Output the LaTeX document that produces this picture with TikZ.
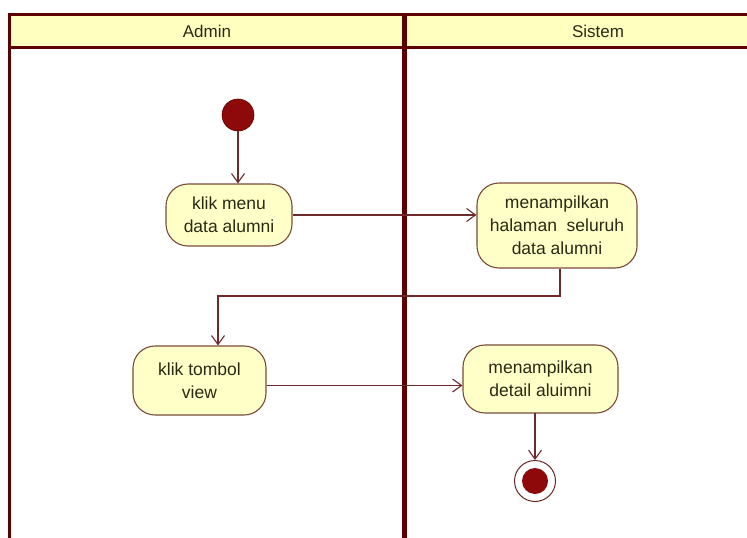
\documentclass[tikz,border=0pt]{standalone}
\usepackage{fontspec}
\setmainfont{Liberation Sans}
\usetikzlibrary{arrows.meta}
\definecolor{frame}{HTML}{5E0000}
\definecolor{headfill}{HTML}{FFFFC0}
\definecolor{actfill}{HTML}{FFFFC8}
\definecolor{actdraw}{HTML}{7A4A3A}
\definecolor{flow}{HTML}{6E2A2A}
\definecolor{dot}{HTML}{8E0A0A}
\definecolor{txt}{HTML}{2A2A14}
\tikzset{
  act/.style={draw=actdraw, fill=actfill, line width=1.1pt, rounded corners=22pt,
    align=center, font=\fontsize{17.5}{23}\selectfont, text=txt, inner sep=0pt},
  flowarr/.style={draw=flow, line width=1.1pt, -{Straight Barb[length=9pt,width=13pt]}},
  lane/.style={font=\fontsize{17}{20}\selectfont, text=txt},
}
\begin{document}
\begin{tikzpicture}[x=1pt,y=-1pt]
\useasboundingbox (0,0) rectangle (747,538);
\fill[white] (0,0) rectangle (747,538);
% header
\fill[headfill] (9,14) rectangle (747,47);
\draw[frame, line width=3pt] (9.5,538) -- (9.5,14) -- (747,14);
\draw[frame, line width=3pt] (9.5,47.5) -- (747,47.5);
\draw[frame, line width=5pt] (404.5,14) -- (404.5,538);
\node[lane] (admin) at (207,31) {Admin};
\node[lane] (sistem) at (598,31) {Sistem};
% start
\node[circle, fill=dot, draw=frame, line width=0.6pt, minimum size=32pt, inner sep=0pt] (start) at (238,115) {};
% activities
\node[act, minimum width=126pt, minimum height=62pt] (a1) at (229,215) {klik menu\\data alumni};
\node[act, minimum width=160pt, minimum height=85pt] (a2) at (557,225.5) {menampilkan\\halaman\ \ seluruh\\data alumni};
\node[act, minimum width=133pt, minimum height=69pt] (a3) at (199.5,380.5) {klik tombol\\view};
\node[act, minimum width=155pt, minimum height=68pt] (a4) at (540.5,379) {menampilkan\\detail aluimni};
% end
\node[circle, draw=frame!70!gray, line width=1pt, fill=white, minimum size=41pt, inner sep=0pt] (end) at (535,481) {};
\node[circle, fill=dot, minimum size=26pt, inner sep=0pt] (enddot) at (end) {};
% flows
\coordinate (c1) at (560,296);
\coordinate (c2) at (218,296);
\draw[flowarr] (start) -- (start |- a1.north);
\draw[flowarr] (a1.east) -- (a1.east -| a2.west);
\draw[flowarr] (c1 |- a2.south) -- (c1) -- (c2) -- (c2 |- a3.north);
\draw[flowarr] ([yshift=-5pt]a3.east) -- ([yshift=-5pt]a3.east -| a4.west);
\draw[flowarr] (535,413) -- (end.north);
\end{tikzpicture}
\end{document}
